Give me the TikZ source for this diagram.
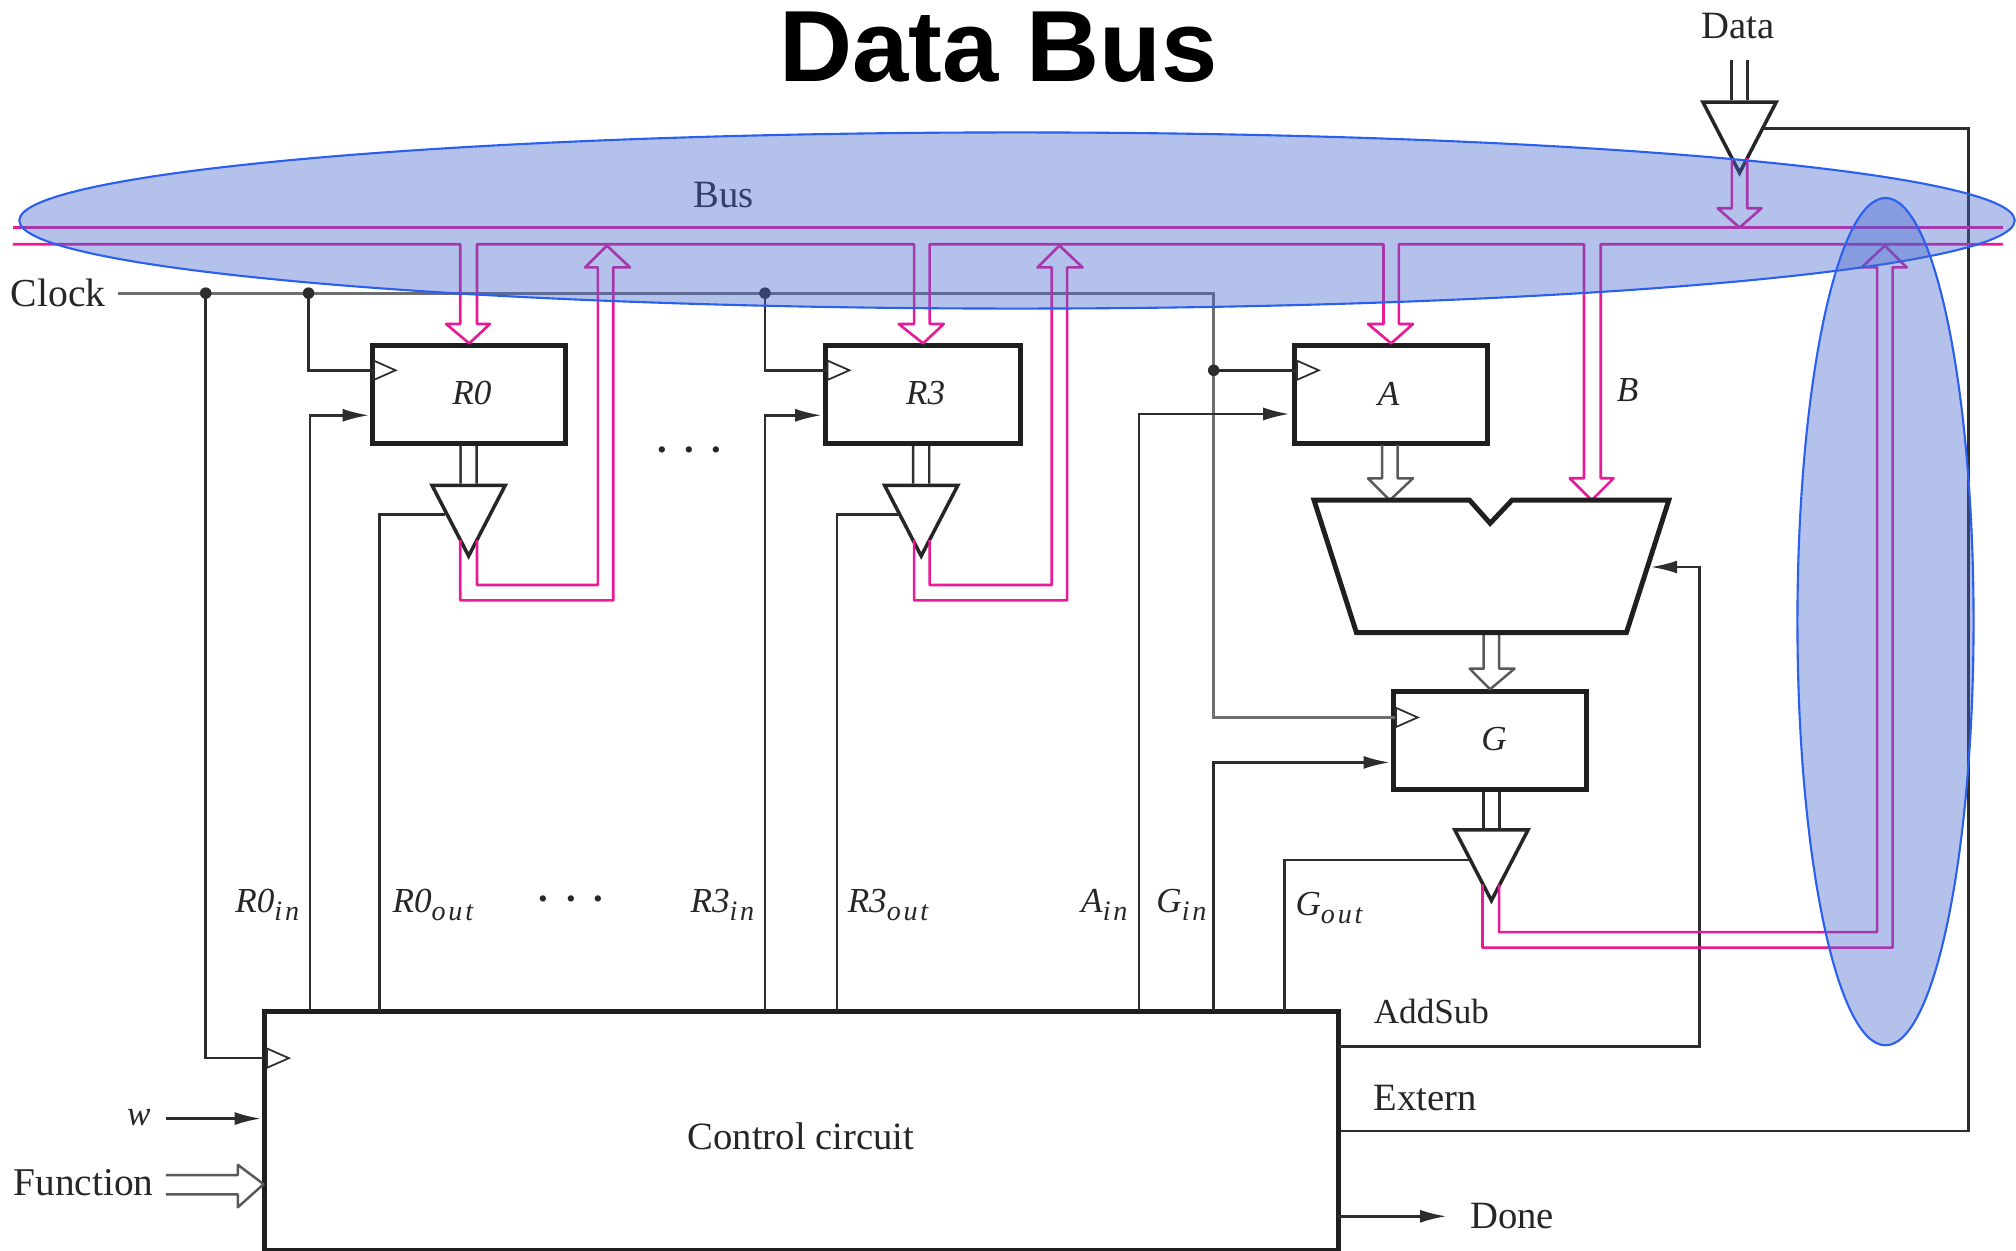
\documentclass[tikz,border=0pt]{standalone}
\usepackage{fontspec}
\setmainfont{Liberation Serif}
\setsansfont{Liberation Sans}
\usetikzlibrary{shapes.geometric,arrows.meta}
\definecolor{busink}{RGB}{232,26,150}
\definecolor{wireink}{RGB}{45,45,45}
\definecolor{clkink}{RGB}{110,110,110}
\definecolor{ovalfill}{RGB}{68,100,205}
\definecolor{ovalline}{RGB}{42,95,240}
\def\upx{0.012857cm}
\newcommand{\subtag}[2]{\textit{#1}\raisebox{-0.5ex}{\fontsize{8}{10}\selectfont\addfontfeature{LetterSpace=10}\textit{#2}}}

\begin{document}
\begin{tikzpicture}[x=0.012857cm,y=-0.012857cm]
        \tikzstyle{wire}=[draw=wireink,line width=.7pt,>={Latex[length=7.5pt,width=3.7pt]}]
        \tikzstyle{clkwire}=[draw=clkink,line width=.8pt]
        \tikzstyle{buspen}=[draw=busink,line width=.75pt,line join=round]
        \tikzstyle{stem}=[draw=wireink,line width=.7pt,double=white,double distance=3.85pt]
        \tikzstyle{hollow}=[draw=black!65,line width=.7pt,line join=round]
        \tikzstyle{tag}=[inner sep=0pt,text=black!85,font=\fontsize{11}{13}\selectfont]
        \tikzstyle{subtext}=[inner sep=0pt,text=black!85,font=\fontsize{10}{12}\selectfont]
        \tikzstyle{regbox}=[rectangle,draw=black!88,line width=1.4pt,fill=white,inner sep=0pt]
        \tikzstyle{tristate}=[isosceles triangle,isosceles triangle stretches,shape border rotate=270,draw=black!85,line width=1pt,fill=white,inner sep=0pt,minimum width=57*\upx,minimum height=55*\upx,anchor=apex]
        \tikzstyle{clktick}=[isosceles triangle,isosceles triangle stretches,draw=wireink,line width=.5pt,inner sep=0pt,minimum width=15*\upx,minimum height=17*\upx,anchor=lower side]
        \tikzstyle{oval}=[ellipse,draw=ovalline,line width=.6pt,fill=ovalfill,fill opacity=.4,inner sep=0pt]
        \useasboundingbox (0,0) rectangle (1568,973);

        \node[font=\fontsize{28.8}{32}\selectfont\sffamily\bfseries,inner sep=0pt] (title) at (776.5,37) {Data Bus};

        % registers and control
        \node[regbox,minimum width=150*\upx,minimum height=76*\upx] (r0) at (365,307) {};
        \node[regbox,minimum width=152*\upx,minimum height=76*\upx] (r3) at (718,307) {};
        \node[regbox,minimum width=150*\upx,minimum height=76*\upx] (a) at (1082,307) {};
        \node[regbox,minimum width=150*\upx,minimum height=76*\upx] (g) at (1159,576) {};
        \node[regbox,minimum width=835*\upx,minimum height=186*\upx] (ctrl) at (623.5,879.5) {};

        \node[tristate] (t0) at (364.5,436) {};
        \node[tristate] (t3) at (716.5,436) {};
        \node[tristate] (tg) at (1160,704) {};
        \node[tristate] (tdata) at (1353,138) {};

        \node[clktick] (r0ck) at (290,288) {};
        \node[clktick] (r3ck) at (643,288) {};
        \node[clktick] (ack) at (1008,288) {};
        \node[clktick] (gck) at (1085,558) {};
        \node[clktick] (ctrlck) at (207,823) {};

        % pins on the control box and helper points
        \coordinate (clkstart) at (92,228);
        \coordinate (clka) at (160,228);
        \coordinate (clkb) at (240,228);
        \coordinate (clkc) at (595,228);
        \coordinate (clkd) at (944,288);
        \coordinate (r0in) at (241,786);
        \coordinate (r0out) at (295,786);
        \coordinate (r3in) at (595,786);
        \coordinate (r3out) at (651,786);
        \coordinate (ain) at (886,786);
        \coordinate (gin) at (944,786);
        \coordinate (gout) at (999,786);
        \coordinate (r0ld) at (287,323);
        \coordinate (r3ld) at (639,323);
        \coordinate (ald) at (1003,322);
        \coordinate (gld) at (1081,593);
        \coordinate (t0en) at (346,400);
        \coordinate (t3en) at (699,400);
        \coordinate (tgen) at (1143,669);
        \coordinate (tdataen) at (1371,100);
        \coordinate (alua) at (1081,389);
        \coordinate (alub) at (1238,389);
        \coordinate (aluctl) at (1284,441);
        \coordinate (datain) at (1353,47);
        \coordinate (doneend) at (1125,946);
        \coordinate (wstart) at (129,870);
        \coordinate (wend) at (203,870);
        \coordinate (funcpin) at (205,921);
        \coordinate (busnw) at (10,177);
        \coordinate (busne) at (1558,177);
        \coordinate (buswest) at (10,190);
        \coordinate (buseast) at (1558,190);

        % clock net
        \draw[clkwire] (clkstart) -- (944,228) -- (944,558) -- (gck.lower side);
        \draw[wire] (clka) |- (ctrlck.lower side);
        \draw[wire] (clkb) |- (r0ck.lower side);
        \draw[wire] (clkc) |- (r3ck.lower side);
        \draw[wire] (clkd) -- (ack.lower side);
        \fill[wireink] (clka) circle (4.5);
        \fill[wireink] (clkb) circle (4.5);
        \fill[wireink] (clkc) circle (4.5);
        \fill[wireink] (clkd) circle (4.5);

        % control lines
        \draw[wire,->] (r0in) |- (r0ld);
        \draw[wire,->] (r3in) |- (r3ld);
        \draw[wire,->] (ain) |- (ald);
        \draw[wire,->] (gin) |- (gld);
        \draw[wire] (r0out) |- (t0en);
        \draw[wire] (r3out) |- (t3en);
        \draw[wire] (gout) |- (tgen);
        \draw[wire,->] (1041,814) -| (1322,441) -- (aluctl);
        \draw[wire] (ctrl.east) -| (1531,100) -- (tdataen);
        \draw[wire,->] (1041,946) -- (doneend);
        \draw[wire,->] (wstart) -- (wend);

        % bus
        \draw[buspen] (busnw) -- (busne);
        \draw[buspen] (buswest) -- (358,190) -- (358,252) -- (347,252) -- (r0.north) -- (381,252) -- (371,252) -- (371,190) -- (711,190) -- (711,252) -- (699,252) -- (r3.north) -- (734,252) -- (723,252) -- (723,190) -- (1076,190) -- (1076,252) -- (1064,252) -- (a.north) -- (1099,252) -- (1088,252) -- (1088,190) -- (1232,190) -- (1232,372) -- (1221,372) -- (alub) -- (1255,372) -- (1245,372) -- (1245,190) -- (buseast);
        \draw[buspen] (t0.apex) ++(-6.5,-16) -- (358,467) -- (477,467) -- (477,208) -- (490,208) -- (472,191) -- (455,208) -- (465,208) -- (465,455) -- (371,455) -- (371,420);
        \draw[buspen] (t3.apex) ++(-5.5,-16) -- (711,467) -- (830,467) -- (830,208) -- (842,208) -- (824,191) -- (807,208) -- (818,208) -- (818,455) -- (723,455) -- (723,420);
        \draw[buspen] (tg.apex) ++(-7,-16) -- (1153,737) -- (1472,737) -- (1472,208) -- (1483,208) -- (1466,191) -- (1448,208) -- (1460,208) -- (1460,725) -- (1166,725) -- (1166,688);
        \draw[buspen] (tdata.apex) ++(-6,-15) -- (1347,162) -- (1336,162) -- (1353,177) -- (1370,162) -- (1359,162) -- (1359,123);

        % stems and hollow arrows
        \draw[stem] (r0.south) ++(-.5,0) -- (t0.lower side);
        \draw[stem] (r3.south) ++(-1.5,0) -- (t3.lower side);
        \draw[stem] (g.south) ++(1,0) -- (tg.lower side);
        \draw[stem] (datain) -- (tdata.lower side);
        \draw[hollow] (1075,346) -- (1075,372) -- (1064,372) -- (alua) -- (1099,372) -- (1087,372) -- (1087,346);
        \draw[hollow] (1154,493) -- (1154,520) -- (1143,520) -- (g.north) -- (1178,520) -- (1166,520) -- (1166,493);
        \draw[hollow] (129,914) -- (185,914) -- (185,906) -- (funcpin) -- (185,939) -- (185,929) -- (129,929);
        \draw[line width=1.4pt,draw=black!88,line join=miter] (1022,389) -- (1143,389) -- (1159,407) -- (1176,389) -- (1298,389) -- (1265,492) -- (1055,492) -- cycle;

        % text
        \node[subtext] (r0tag) at (367,306) {\textit{R0}};
        \node[subtext] (r3tag) at (720,306) {\textit{R3}};
        \node[subtext] (atag) at (1080,306) {\textit{A}};
        \node[subtext] (gtag) at (1162,575) {\textit{G}};
        \node[tag] (ctrltag) at (623,884) {Control circuit};
        \node[tag] (bus) at (563,152) {Bus};
        \node[tag,anchor=west,font=\fontsize{11.3}{13}\selectfont] (clk) at (8,228) {Clock};
        \node[tag] (data) at (1352,20) {Data};
        \node[subtext] (btag) at (1266,303) {\textit{B}};
        \node[tag] (dotsa) at (536,350) {\textbf{.\hspace{5pt}.\hspace{5pt}.}};
        \node[tag] (dotsb) at (444,699) {\textbf{.\hspace{5pt}.\hspace{5pt}.}};
        \node[subtext] (r0intag) at (209,704) {\subtag{R0}{in}};
        \node[subtext] (r0outtag) at (338,704) {\subtag{R0}{out}};
        \node[subtext] (r3intag) at (563,704) {\subtag{R3}{in}};
        \node[subtext] (r3outtag) at (692,704) {\subtag{R3}{out}};
        \node[subtext] (aintag) at (860,704) {\subtag{A}{in}};
        \node[subtext] (gintag) at (920,704) {\subtag{G}{in}};
        \node[subtext] (gouttag) at (1035,706) {\subtag{G}{out}};
        \node[subtext,anchor=west] (addsub) at (1068,787) {AddSub};
        \node[tag,anchor=west] (extern) at (1068,854) {Extern};
        \node[tag,anchor=west] (done) at (1143,946) {Done};
        \node[subtext] (wtag) at (108,869) {\textit{w}};
        \node[tag,anchor=west,font=\fontsize{11.2}{13}\selectfont] (func) at (10,920) {Function};

        % highlight ovals
        \node[oval,minimum width=1552*\upx,minimum height=137*\upx] (busoval) at (791,171.5) {};
        \node[oval,minimum width=137*\upx,minimum height=659*\upx] (driveoval) at (1466.5,483.5) {};
\end{tikzpicture}
\end{document}
